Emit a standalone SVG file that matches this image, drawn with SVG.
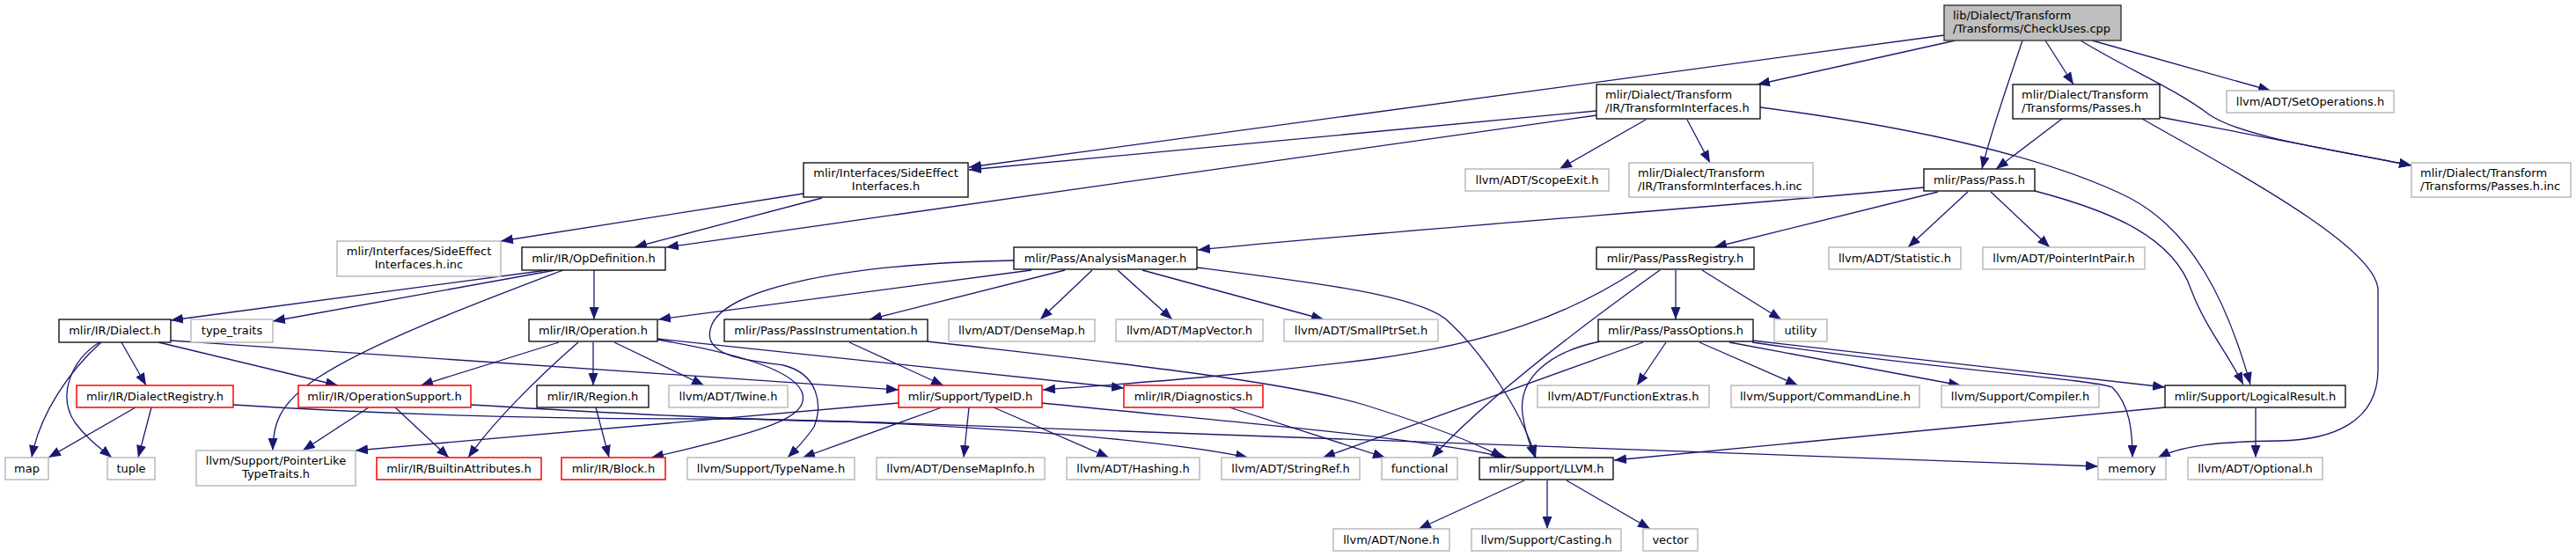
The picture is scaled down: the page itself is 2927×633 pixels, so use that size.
<svg xmlns="http://www.w3.org/2000/svg" width="2927" height="633" viewBox="0 0 2927 633">
<style>
.n rect{fill:#fff;stroke:#000;stroke-width:1.3}
.g rect{fill:#fff;stroke:#bfbfbf;stroke-width:1.6}
.r rect{fill:#fff;stroke:#ff0000;stroke-width:1.5}
.root rect{fill:#bfbfbf;stroke:#404040;stroke-width:1.5}
text{font-family:"DejaVu Sans","Liberation Sans",sans-serif;font-size:13px;fill:#000;text-anchor:middle}
text.l{text-anchor:start}
#edges path{fill:none;stroke:#191970;stroke-width:1.3;marker-end:url(#a)}
</style>
<defs>
<marker id="a" markerUnits="userSpaceOnUse" markerWidth="14" markerHeight="11" viewBox="0 0 14 11" refX="14" refY="5.5" orient="auto"><path d="M0,0 L14,5.5 L0,11 z" fill="#191970"/></marker>
</defs>
<rect width="2927" height="633" fill="#fff"/>
<g id="edges">
<path d="M2209,40 L1101,190"/>
<path d="M2222,46 L1997,96"/>
<path d="M2298,46 C2280,100 2262,150 2252,192"/>
<path d="M2324,46 L2356,96"/>
<path d="M2377,46 L2580,103"/>
<path d="M2364,46 C2420,80 2470,100 2510,130 C2545,155 2650,170 2740,188"/>
<path d="M1814,126 L1101,193"/>
<path d="M1814,131 L757,281"/>
<path d="M1870,136 L1772,192"/>
<path d="M1917,136 L1943,185"/>
<path d="M2000,122 C2180,145 2330,180 2420,225 C2490,262 2530,340 2557,437"/>
<path d="M913,220 L569,274"/>
<path d="M934,225 L721,281"/>
<path d="M2343,135 L2268,192"/>
<path d="M2454,133 L2740,188"/>
<path d="M2434,135 C2530,190 2702,280 2702,330 L2702,420 C2702,480 2650,500 2590,501 C2520,502 2480,506 2452,520"/>
<path d="M2186,213 C2000,232 1600,260 1361,284"/>
<path d="M2202,218 L1948,281"/>
<path d="M2236,218 L2168,281"/>
<path d="M2262,218 L2329,281"/>
<path d="M2312,217 C2400,240 2470,270 2490,330 C2505,370 2530,400 2549,437"/>
<path d="M622,307 L194,364"/>
<path d="M631,307 L310,365"/>
<path d="M640,307 C540,345 420,390 360,430 C315,460 310,485 310,512"/>
<path d="M675,307 L675,363"/>
<path d="M115,389 C80,420 45,470 36,520"/>
<path d="M113,389 C80,410 65,450 85,480 C100,500 115,510 127,520"/>
<path d="M138,389 L166,438"/>
<path d="M180,389 L384,438"/>
<path d="M194,387 L1021,443"/>
<path d="M154,463 L55,520"/>
<path d="M172,463 L157,520"/>
<path d="M265,460 C420,470 600,476 800,476 C1000,476 1300,495 1418,520"/>
<path d="M419,463 L344,512"/>
<path d="M449,463 L510,520"/>
<path d="M535,460 C700,470 850,478 1000,480 C1500,498 2000,512 2384,530"/>
<path d="M674,389 L674,438"/>
<path d="M698,389 L800,438"/>
<path d="M635,389 L478,438"/>
<path d="M657,389 C610,430 560,480 532,520"/>
<path d="M747,386 C830,400 905,420 912,448 C918,475 870,490 740,520"/>
<path d="M747,385 L1277,441"/>
<path d="M965,389 L1072,438"/>
<path d="M1054,388 C1200,405 1450,430 1550,460 C1630,485 1680,505 1708,520"/>
<path d="M1172,307 L748,363"/>
<path d="M1210,307 L988,363"/>
<path d="M1241,307 L1182,363"/>
<path d="M1270,307 L1332,363"/>
<path d="M1298,307 L1504,363"/>
<path d="M1360,304 C1500,322 1605,335 1642,362 C1685,400 1730,470 1745,520"/>
<path d="M1152,296 C950,300 815,330 807,375 C800,405 850,410 890,415 C930,425 935,460 925,485 C915,500 905,510 895,520"/>
<path d="M1021,458 L404,512"/>
<path d="M1101,463 L1095,520"/>
<path d="M1129,463 L1260,520"/>
<path d="M1184,458 C1400,480 1600,495 1712,520"/>
<path d="M1070,463 L912,520"/>
<path d="M1397,463 L1574,520"/>
<path d="M1860,307 C1780,360 1690,390 1560,408 C1400,428 1280,436 1185,443"/>
<path d="M1886,307 C1840,340 1700,440 1627,520"/>
<path d="M1904,307 L1904,363"/>
<path d="M1934,307 L2024,363"/>
<path d="M1867,389 L1503,520"/>
<path d="M1818,388 C1760,400 1725,430 1730,470 C1733,495 1740,508 1744,520"/>
<path d="M1893,389 L1860,438"/>
<path d="M1931,389 L2043,438"/>
<path d="M1965,389 L2228,438"/>
<path d="M1991,387 L2460,440"/>
<path d="M1991,389 C2200,420 2370,430 2400,440 C2420,460 2423,490 2423,520"/>
<path d="M2460,463 L1834,523"/>
<path d="M2563,464 L2563,520"/>
<path d="M1732,546 L1612,601"/>
<path d="M1758,546 L1758,601"/>
<path d="M1780,546 L1875,601"/>
<path d="M677,463 L692,520"/>
</g>
<g id="n0" class="root"><rect x="2209" y="6" width="201" height="40"/><text class="l" x="2219" y="22">lib/Dialect/Transform</text><text class="l" x="2219" y="37">/Transforms/CheckUses.cpp</text></g>
<g id="n1" class="n"><rect x="1814" y="96" width="186" height="39"/><text class="l" x="1824" y="112">mlir/Dialect/Transform</text><text class="l" x="1824" y="127">/IR/TransformInterfaces.h</text></g>
<g id="n2" class="n"><rect x="2287" y="96" width="167" height="39"/><text class="l" x="2297" y="112">mlir/Dialect/Transform</text><text class="l" x="2297" y="127">/Transforms/Passes.h</text></g>
<g id="n3" class="g"><rect x="2530" y="103" width="190" height="25"/><text x="2625" y="119.5">llvm/ADT/SetOperations.h</text></g>
<g id="n4" class="n"><rect x="913" y="185" width="187" height="39"/><text x="1006.5" y="201">mlir/Interfaces/SideEffect</text><text x="1006.5" y="216">Interfaces.h</text></g>
<g id="n5" class="g"><rect x="1665" y="192" width="163" height="25"/><text x="1746.5" y="208.5">llvm/ADT/ScopeExit.h</text></g>
<g id="n6" class="g"><rect x="1851" y="185" width="209" height="39"/><text class="l" x="1861" y="201">mlir/Dialect/Transform</text><text class="l" x="1861" y="216">/IR/TransformInterfaces.h.inc</text></g>
<g id="n7" class="n"><rect x="2186" y="192" width="126" height="25"/><text x="2249" y="208.5">mlir/Pass/Pass.h</text></g>
<g id="n8" class="g"><rect x="2740" y="185" width="181" height="39"/><text class="l" x="2750" y="201">mlir/Dialect/Transform</text><text class="l" x="2750" y="216">/Transforms/Passes.h.inc</text></g>
<g id="n9" class="g"><rect x="383" y="274" width="186" height="40"/><text x="476" y="290">mlir/Interfaces/SideEffect</text><text x="476" y="305">Interfaces.h.inc</text></g>
<g id="n10" class="n"><rect x="593" y="281" width="163" height="26"/><text x="674.5" y="297.5">mlir/IR/OpDefinition.h</text></g>
<g id="n11" class="n"><rect x="1152" y="281" width="208" height="25"/><text x="1256" y="297.5">mlir/Pass/AnalysisManager.h</text></g>
<g id="n12" class="n"><rect x="1814" y="281" width="179" height="25"/><text x="1903.5" y="297.5">mlir/Pass/PassRegistry.h</text></g>
<g id="n13" class="g"><rect x="2078" y="281" width="150" height="25"/><text x="2153" y="297.5">llvm/ADT/Statistic.h</text></g>
<g id="n14" class="g"><rect x="2253" y="281" width="184" height="25"/><text x="2345" y="297.5">llvm/ADT/PointerIntPair.h</text></g>
<g id="n15" class="n"><rect x="67" y="363" width="127" height="26"/><text x="130.5" y="379.5">mlir/IR/Dialect.h</text></g>
<g id="n16" class="g"><rect x="217" y="363" width="93" height="26"/><text x="263.5" y="379.5">type_traits</text></g>
<g id="n17" class="n"><rect x="601" y="363" width="146" height="25"/><text x="674" y="379.5">mlir/IR/Operation.h</text></g>
<g id="n18" class="n"><rect x="823" y="363" width="231" height="25"/><text x="938.5" y="379.5">mlir/Pass/PassInstrumentation.h</text></g>
<g id="n19" class="g"><rect x="1078" y="363" width="166" height="25"/><text x="1161" y="379.5">llvm/ADT/DenseMap.h</text></g>
<g id="n20" class="g"><rect x="1268" y="363" width="167" height="25"/><text x="1351.5" y="379.5">llvm/ADT/MapVector.h</text></g>
<g id="n21" class="g"><rect x="1459" y="363" width="175" height="25"/><text x="1546.5" y="379.5">llvm/ADT/SmallPtrSet.h</text></g>
<g id="n22" class="n"><rect x="1816" y="363" width="176" height="25"/><text x="1904" y="379.5">mlir/Pass/PassOptions.h</text></g>
<g id="n23" class="g"><rect x="2016" y="363" width="60" height="25"/><text x="2046" y="379.5">utility</text></g>
<g id="n24" class="r"><rect x="87" y="438" width="178" height="25"/><text x="176" y="454.5">mlir/IR/DialectRegistry.h</text></g>
<g id="n25" class="r"><rect x="339" y="438" width="196" height="25"/><text x="437" y="454.5">mlir/IR/OperationSupport.h</text></g>
<g id="n26" class="n"><rect x="610" y="438" width="127" height="25"/><text x="673.5" y="454.5">mlir/IR/Region.h</text></g>
<g id="n27" class="g"><rect x="760" y="438" width="135" height="25"/><text x="827.5" y="454.5">llvm/ADT/Twine.h</text></g>
<g id="n28" class="r"><rect x="1021" y="438" width="163" height="25"/><text x="1102.5" y="454.5">mlir/Support/TypeID.h</text></g>
<g id="n29" class="r"><rect x="1277" y="438" width="158" height="25"/><text x="1356" y="454.5">mlir/IR/Diagnostics.h</text></g>
<g id="n30" class="g"><rect x="1747" y="438" width="195" height="25"/><text x="1844.5" y="454.5">llvm/ADT/FunctionExtras.h</text></g>
<g id="n31" class="g"><rect x="1967" y="438" width="214" height="25"/><text x="2074" y="454.5">llvm/Support/CommandLine.h</text></g>
<g id="n32" class="g"><rect x="2206" y="438" width="179" height="25"/><text x="2295.5" y="454.5">llvm/Support/Compiler.h</text></g>
<g id="n33" class="n"><rect x="2460" y="438" width="205" height="25"/><text x="2562.5" y="454.5">mlir/Support/LogicalResult.h</text></g>
<g id="n34" class="g"><rect x="6" y="520" width="49" height="25"/><text x="30.5" y="536.5">map</text></g>
<g id="n35" class="g"><rect x="122" y="520" width="54" height="25"/><text x="149" y="536.5">tuple</text></g>
<g id="n36" class="g"><rect x="223" y="512" width="181" height="40"/><text x="313.5" y="528">llvm/Support/PointerLike</text><text x="313.5" y="543">TypeTraits.h</text></g>
<g id="n37" class="r"><rect x="428" y="520" width="187" height="25"/><text x="521.5" y="536.5">mlir/IR/BuiltinAttributes.h</text></g>
<g id="n38" class="r"><rect x="638" y="520" width="118" height="25"/><text x="697" y="536.5">mlir/IR/Block.h</text></g>
<g id="n39" class="g"><rect x="781" y="520" width="190" height="25"/><text x="876" y="536.5">llvm/Support/TypeName.h</text></g>
<g id="n40" class="g"><rect x="996" y="520" width="191" height="25"/><text x="1091.5" y="536.5">llvm/ADT/DenseMapInfo.h</text></g>
<g id="n41" class="g"><rect x="1212" y="520" width="151" height="25"/><text x="1287.5" y="536.5">llvm/ADT/Hashing.h</text></g>
<g id="n42" class="g"><rect x="1388" y="520" width="157" height="25"/><text x="1466.5" y="536.5">llvm/ADT/StringRef.h</text></g>
<g id="n43" class="g"><rect x="1570" y="520" width="86" height="25"/><text x="1613" y="536.5">functional</text></g>
<g id="n44" class="n"><rect x="1681" y="520" width="152" height="25"/><text x="1757" y="536.5">mlir/Support/LLVM.h</text></g>
<g id="n45" class="g"><rect x="2384" y="520" width="77" height="25"/><text x="2422.5" y="536.5">memory</text></g>
<g id="n46" class="g"><rect x="2486" y="520" width="153" height="25"/><text x="2562.5" y="536.5">llvm/ADT/Optional.h</text></g>
<g id="n47" class="g"><rect x="1515" y="601" width="132" height="25"/><text x="1581" y="617.5">llvm/ADT/None.h</text></g>
<g id="n48" class="g"><rect x="1672" y="601" width="170" height="25"/><text x="1757" y="617.5">llvm/Support/Casting.h</text></g>
<g id="n49" class="g"><rect x="1867" y="601" width="62" height="25"/><text x="1898" y="617.5">vector</text></g>
</svg>
